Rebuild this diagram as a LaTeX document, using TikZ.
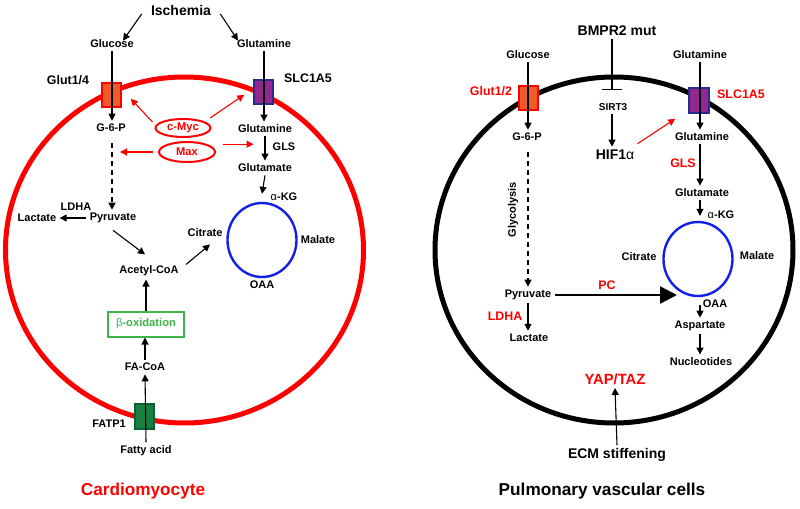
\documentclass[tikz,border=0pt]{standalone}
\usepackage{fontspec}
\setmainfont{Liberation Sans}
\usetikzlibrary{arrows.meta,shapes.geometric}
\definecolor{glutorange}{HTML}{F15A29}
\definecolor{slcpurple}{HTML}{92278F}
\definecolor{slcnavy}{HTML}{262C8A}
\definecolor{fatpgreen}{HTML}{1A8040}
\definecolor{fatpdark}{HTML}{0B6130}
\definecolor{oxgreen}{HTML}{3DB54A}
\definecolor{tcablue}{HTML}{1020E8}

\begin{document}
\begin{tikzpicture}
[x=0.5pt,y=-0.5pt,
lbl/.style={font=\fontsize{5.5}{6}\selectfont\bfseries,inner sep=1.5pt},
midlbl/.style={font=\fontsize{6.2}{7}\selectfont\bfseries,inner sep=1.5pt},
biglbl/.style={font=\fontsize{7}{8}\selectfont\bfseries,inner sep=1.5pt},
titlelbl/.style={font=\fontsize{8.6}{10}\selectfont\bfseries,inner sep=1.5pt},
cell/.style={ellipse,line width=2.5pt,inner sep=0pt,minimum width=179pt,minimum height=173pt},
tca/.style={ellipse,draw=tcablue,line width=1.2pt,inner sep=0pt,minimum width=34.5pt,minimum height=37pt},
membox/.style={rectangle,line width=0.8pt,inner sep=0pt,minimum width=9.5pt,minimum height=12pt},
factor/.style={ellipse,draw=red,line width=1pt,inner sep=0pt,text=red,font=\fontsize{5.6}{6}\selectfont\bfseries},
arr/.style={-{Triangle[length=3.5pt,width=3.5pt]},line width=0.55pt},
redarr/.style={arr,red},
inh/.style={-{Bar[width=10pt,line width=0.6pt]},line width=0.55pt},
]
\useasboundingbox (0,0) rectangle (800,509);

% cardiomyocyte
\node[cell,draw=red] (cellL) at (184.5,250) {};
\node[membox,draw=red,fill=glutorange] (glutL) at (111.5,95) {};
\node[membox,draw=slcnavy,fill=slcpurple] (slcL) at (263.5,92) {};
\node[membox,draw=fatpdark,fill=fatpgreen,minimum height=12.5pt] (fatp) at (144.5,416.5) {};

\node[biglbl] (isch) at (181,10) {Ischemia};
\node[lbl] (glucL) at (112,44) {Glucose};
\node[lbl] (glnL) at (264,44) {Glutamine};
\node[midlbl] (glut14) at (68,80) {Glut1/4};
\node[midlbl] (slcLlbl) at (308,78) {SLC1A5};
\node[lbl] (g6pL) at (111,128) {G-6-P};
\node[factor,minimum width=27.5pt,minimum height=9pt] (myc) at (183,128) {c-Myc};
\node[factor,minimum width=28pt,minimum height=10pt] (max) at (187,152) {Max};
\node[lbl] (pyrL) at (113,218) {Pyruvate};
\node[lbl] (ldhaL) at (76,207) {LDHA};
\node[lbl] (lacL) at (37,218) {Lactate};
\node[lbl] (gln2L) at (265,129) {Glutamine};
\node[lbl] (glsL) at (284,147) {GLS};
\node[lbl] (gluL) at (265,168) {Glutamate};
\node[tca] (tcaL) at (262,240) {};
\node[lbl] (akgL) at (284,197) {\textmd{α}-KG};
\node[lbl] (citL) at (205,233) {Citrate};
\node[lbl] (malL) at (318,240) {Malate};
\node[lbl] (oaaL) at (262,285) {OAA};
\node[lbl] (acoa) at (149,271) {Acetyl-CoA};
\node[draw=oxgreen,line width=1pt,text=oxgreen,font=\fontsize{5.6}{6}\selectfont\bfseries,minimum width=38pt,minimum height=12.5pt,inner sep=0pt] (box) at (146,324) {\textmd{β}-oxidation};
\node[lbl] (facoa) at (145,367) {FA-CoA};
\node[lbl] (fatplbl) at (109,424) {FATP1};
\node[lbl] (fatty) at (146,451) {Fatty acid};
\node[titlelbl,text=red] (cardio) at (143,491) {Cardiomyocyte};

\draw[arr] ([shift={(-6,4)}]isch.west) -- ([shift={(11,4)}]glucL.north);
\draw[arr] ([shift={(6,4)}]isch.east) -- ([shift={(-26,4)}]glnL.north);
\draw[arr] (glucL.south) -- (g6pL.north -| glucL.south);
\draw[arr,dash pattern=on 2.5pt off 2pt] ([yshift=-4pt]g6pL.south -| glucL.south) -- (pyrL.north -| glucL.south);
\draw[arr] (pyrL.west) -- (lacL.east);
\draw[arr] ([shift={(0,4)}]pyrL.south) -- ([shift={(-4,-8)}]acoa.north);
\draw[arr] ([shift={(4,2)}]acoa.north east) -- ([shift={(5,4)}]citL.south);
\draw[arr] (box.north) -- (box.north |- acoa.south);
\draw[arr] (facoa.north) -- (facoa.north |- box.south);
\draw[arr] (fatty.north) -- (facoa.south);
\draw[arr] (glnL.south) -- (glnL.south |- gln2L.north);
\draw[arr] (gln2L.south) -- (gluL.north);
\draw[arr] (gluL.south) -- ([yshift=4pt]tcaL.north);
\draw[redarr] ([shift={(-2,-6)}]myc.west) -- ([shift={(9,-9)}]glutL.south east);
\draw[redarr] ([shift={(7,-3)}]myc.north east) -- ([shift={(-9,-10)}]slcL.south west);
\draw[redarr] ([shift={(-5,0)}]max.west) -- ([shift={(-38,0)}]max.west);
\draw[redarr] ([shift={(15,0)}]max.north east) -- ([shift={(46,0)}]max.north east);

% pulmonary vascular cells
\node[cell,draw=black] (cellR) at (614,250) {};
\node[membox,draw=red,fill=glutorange] (glutR) at (528.5,98) {};
\node[membox,draw=slcnavy,fill=slcpurple,minimum width=10pt,minimum height=12.5pt] (slcR) at (699,100.5) {};

\node[biglbl] (bmpr) at (617,31) {BMPR2 mut};
\node[font=\fontsize{5}{6}\selectfont\bfseries,inner sep=1.5pt] (sirt) at (613,107) {SIRT3};
\node[biglbl] (hif) at (615,155) {HIF1\textmd{α}};
\node[lbl] (glucR) at (528,55) {Glucose};
\node[midlbl,text=red] (glut12) at (491,91) {Glut1/2};
\node[lbl] (glnR) at (700,55) {Glutamine};
\node[midlbl,text=red] (slcRlbl) at (741,94) {SLC1A5};
\node[lbl] (g6pR) at (527,137) {G-6-P};
\node[lbl,rotate=90] (glyco) at (513,210) {Glycolysis};
\node[lbl] (pyrR) at (528,295) {Pyruvate};
\node[midlbl,text=red] (ldhaR) at (505,316) {LDHA};
\node[lbl] (lacR) at (529,338) {Lactate};
\node[midlbl,text=red] (pc) at (607,285) {PC};
\node[lbl] (gln2R) at (702,137) {Glutamine};
\node[midlbl,text=red] (glsR) at (683,163) {GLS};
\node[lbl] (gluR) at (702,193) {Glutamate};
\node[tca] (tcaR) at (698,259) {};
\node[lbl] (akgR) at (721,215) {\textmd{α}-KG};
\node[lbl] (citR) at (639,257) {Citrate};
\node[lbl] (malR) at (757,256) {Malate};
\node[lbl] (oaaR) at (715,304) {OAA};
\node[lbl] (aspR) at (700,326) {Aspartate};
\node[lbl] (nucR) at (701,362) {Nucleotides};
\node[font=\fontsize{7.4}{8}\selectfont\bfseries,text=red,inner sep=1.5pt] (yap) at (615,379) {YAP/TAZ};
\node[biglbl] (ecm) at (617,455) {ECM stiffening};
\node[titlelbl] (pulm) at (602,491) {Pulmonary vascular cells};

\draw[inh] ([xshift=-2.5pt]bmpr.south) -- ([xshift=-0.5pt,yshift=5pt]sirt.north);
\draw[arr] ([xshift=-0.5pt]sirt.south) -- ([xshift=-1.5pt]hif.north);
\draw[redarr] ([shift={(0,-3)}]hif.north east) -- ([shift={(-13,5)}]slcR.south west);
\draw[arr] (glucR.south) -- (g6pR.north -| glucR.south);
\draw[arr,dash pattern=on 2.5pt off 2pt] ([yshift=-4pt]g6pR.south -| glucR.south) -- (pyrR.north);
\draw[arr] (pyrR.south) -- (lacR.north -| pyrR.south);
\draw[-{Triangle[length=8.5pt,width=8.5pt]},line width=1.2pt] (pyrR.east) -- ([xshift=-10.5pt]pyrR.east -| tcaR.south);
\draw[arr] (glnR.south) -- (glnR.south |- gln2R.north);
\draw[arr] (gln2R.south -| glnR.south) -- (gluR.north -| glnR.south);
\draw[arr] (gluR.south -| glnR.south) -- ([yshift=2.5pt]tcaR.north -| glnR.south);
\draw[arr] ([yshift=-4pt]tcaR.south -| aspR.north) -- (aspR.north);
\draw[arr] (aspR.south) -- (nucR.north -| aspR.south);
\draw[arr] (ecm.north) -- (yap.south);
\end{tikzpicture}
\end{document}
